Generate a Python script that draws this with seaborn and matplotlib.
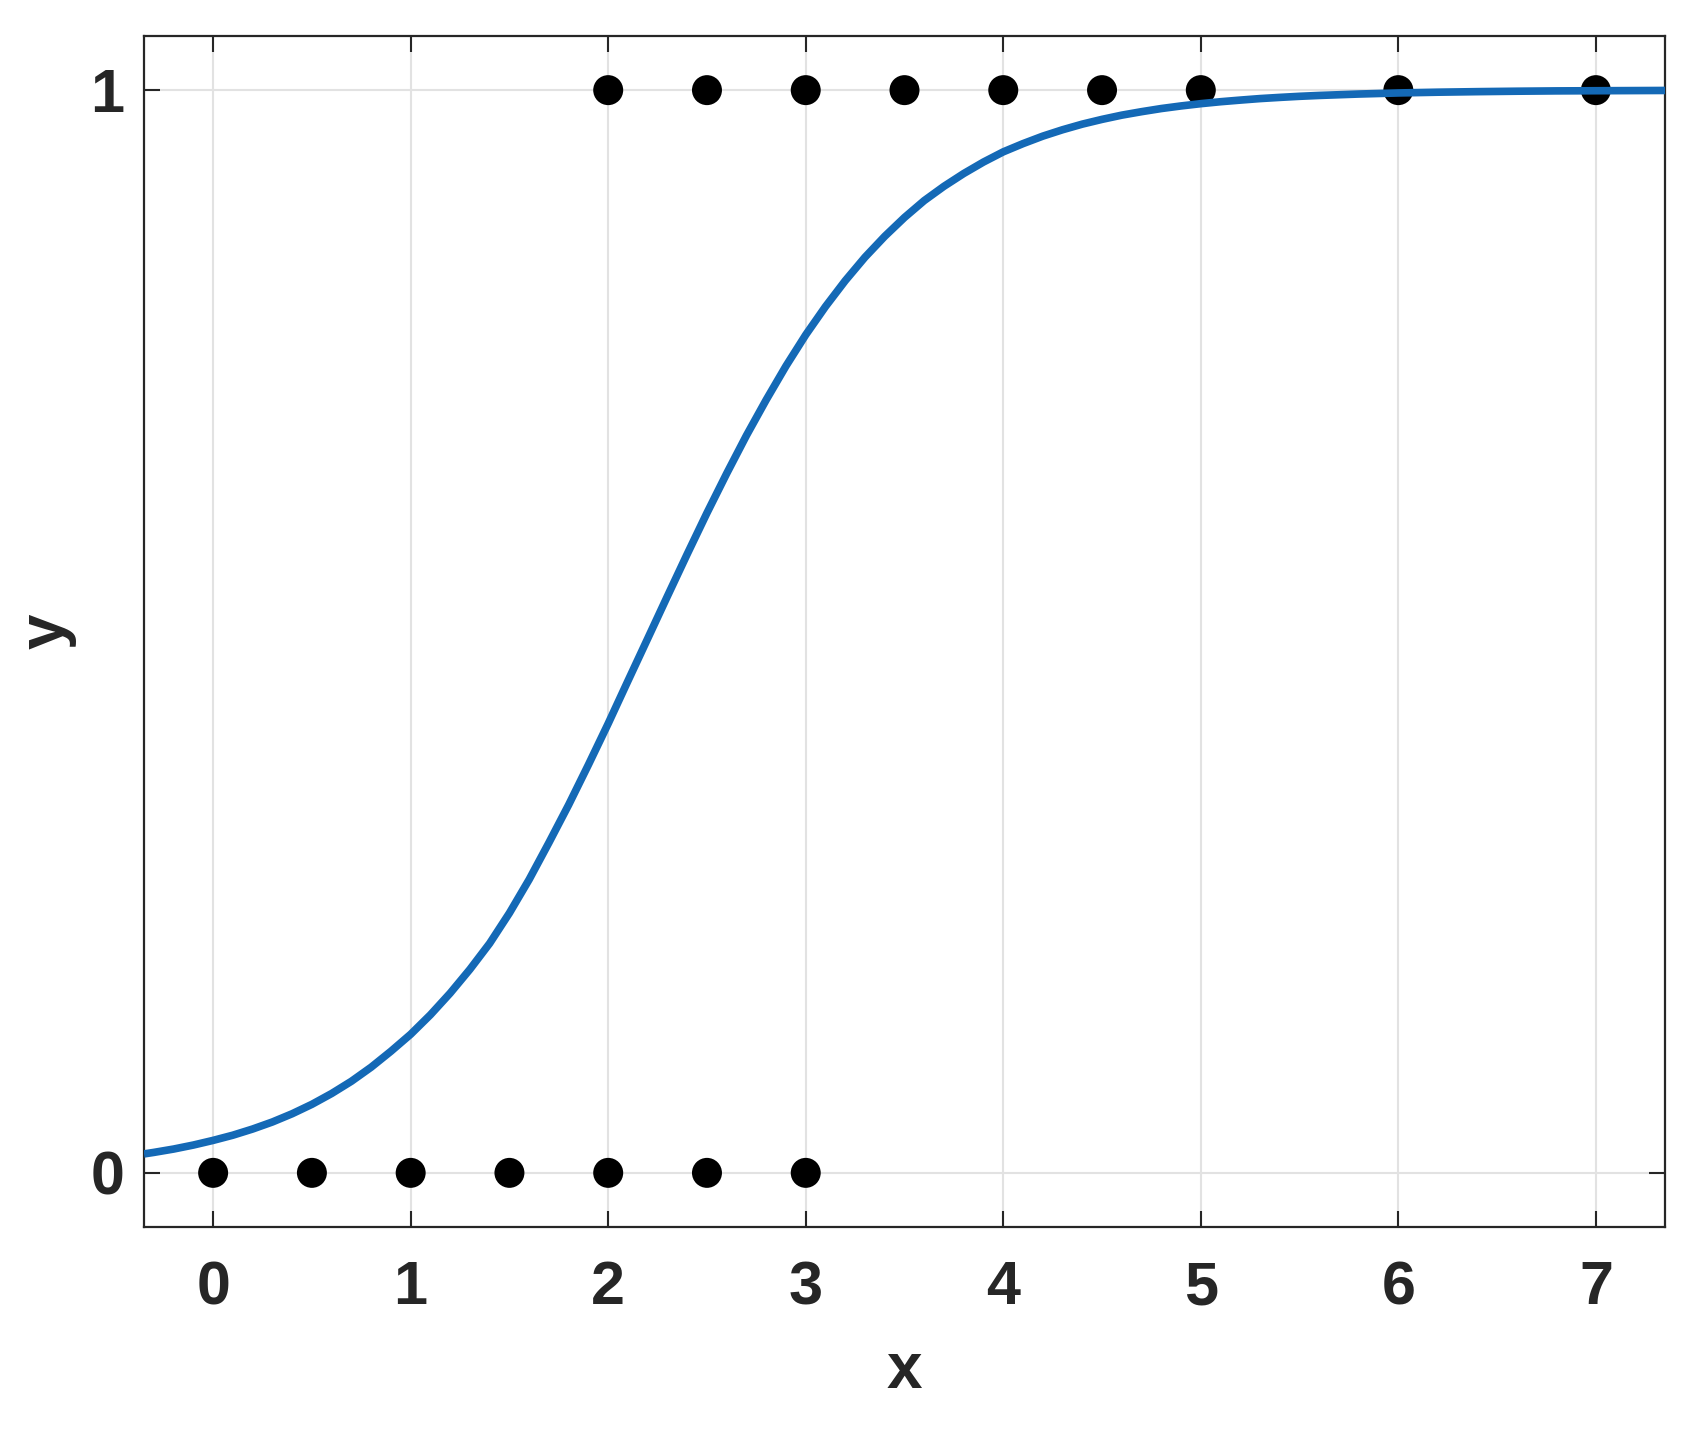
import numpy as np
import pandas as pd
import matplotlib
matplotlib.use("Agg")
import matplotlib.pyplot as plt
import seaborn as sns

# datos observados (clase 0 y clase 1)
x_cero = [0, 0.5, 1, 1.5, 2, 2.5, 3]
x_uno = [2, 2.5, 3, 3.5, 4, 4.5, 5, 6, 7]

# curva ajustada
x_curva = [-0.35, -0.3, -0.2, -0.1, 0.0, 0.1, 0.2, 0.3, 0.4, 0.5, 0.6, 0.7,
           0.8, 0.9, 1.0, 1.1, 1.2, 1.3, 1.4, 1.5, 1.6, 1.7, 1.8, 1.9, 2.0,
           2.1, 2.2, 2.3, 2.4, 2.5, 2.6, 2.7, 2.8, 2.9, 3.0, 3.1, 3.2, 3.3,
           3.4, 3.5, 3.6, 3.7, 3.8, 3.9, 4.0, 4.1, 4.2, 4.3, 4.4, 4.5, 4.6,
           4.7, 4.8, 4.9, 5.0, 5.1, 5.2, 5.3, 5.4, 5.5, 5.6, 5.8, 6.0, 6.2,
           6.4, 6.6, 6.8, 7.0, 7.35]
y_curva = [0.0175, 0.0189, 0.022, 0.0257, 0.030, 0.0348, 0.0405, 0.047, 0.0546,
           0.0633, 0.0733, 0.0846, 0.0976, 0.1123, 0.128, 0.146, 0.166, 0.188,
           0.212, 0.240, 0.271, 0.305, 0.340, 0.377, 0.415, 0.4544, 0.4935,
           0.5327, 0.5715, 0.6095, 0.646, 0.6811, 0.714, 0.7452, 0.774, 0.8001,
           0.824, 0.8457, 0.865, 0.8824, 0.898, 0.9112, 0.923, 0.9336, 0.943,
           0.9506, 0.9575, 0.9634, 0.9686, 0.973, 0.9769, 0.9801, 0.983, 0.9854,
           0.9875, 0.9893, 0.9908, 0.9922, 0.9933, 0.9943, 0.9951, 0.9964,
           0.9974, 0.9981, 0.9986, 0.999, 0.9993, 0.99945, 0.9997]

xticks = [0, 1, 2, 3, 4, 5, 6, 7]
yticks = [0, 1]

datos = pd.DataFrame({"x": x_cero + x_uno,
                      "y": [0] * len(x_cero) + [1] * len(x_uno)})
curva = pd.DataFrame({"x": x_curva, "y": y_curva})

sns.set_style("white")
plt.rcParams["font.family"] = ["Liberation Sans", "DejaVu Sans"]
plt.rcParams["font.weight"] = "bold"

fig = plt.figure(figsize=(17.02, 14.3), dpi=100)
ax = fig.add_axes([144 / 1702, 1 - 1227 / 1430, (1665 - 144) / 1702, (1227 - 36) / 1430])

sns.scatterplot(data=datos, x="x", y="y", color="black", s=466, edgecolor="none", ax=ax, zorder=3)
sns.lineplot(data=curva, x="x", y="y", color="#1469b6", lw=5.5, ax=ax, zorder=4,
             solid_joinstyle="round", solid_capstyle="butt")

ax.set_xlim(-0.35, 7.35)
ax.set_ylim(-0.05, 1.05)
ax.set_xticks(xticks)
ax.set_yticks(yticks)
ax.grid(True, color="#e2e2e2", linewidth=1.5)
ax.set_axisbelow(True)
ax.tick_params(direction="in", length=11.5, width=1.5, colors="#262626", labelsize=44,
               top=True, right=True, bottom=True, left=True)
ax.tick_params(axis="x", pad=24)
ax.tick_params(axis="y", pad=14)
for lab in ax.get_xticklabels() + ax.get_yticklabels():
    lab.set_fontweight("bold")
for s in ax.spines.values():
    s.set_color("#262626")
    s.set_linewidth(1.6)
ax.set_xlabel("x", fontsize=46, fontweight="bold", color="#262626", labelpad=17)
ax.set_ylabel("y", fontsize=46, fontweight="bold", color="#262626", labelpad=10)

fig.savefig("out.png", dpi=100)
